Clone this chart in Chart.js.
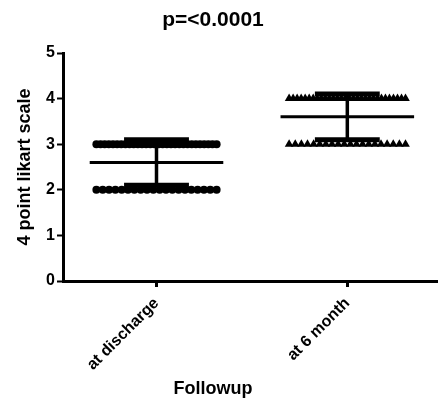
<!DOCTYPE html>
<html>
<head>
<meta charset="utf-8">
<script src="https://cdn.jsdelivr.net/npm/chart.js@4.4.1/dist/chart.umd.min.js"></script>
<style>
html,body{margin:0;padding:0;background:#fff;}
canvas{display:block;}
</style>
</head>
<body>
<canvas id="c" width="442" height="402"></canvas>
<script>
// ---- data ----
const categories = ["at discharge", "at 6 month"];
const scoreLevels = [2, 3, 4];
const dischargeCounts = [20, 30, 0];   // number of patients scoring 2, 3, 4
const sixMonthCounts = [0, 20, 30];
const means = [2.6, 3.6];
const sds = [0.5, 0.5];
const yTicks = [0, 1, 2, 3, 4, 5];
const titleText = "p=<0.0001";
const yTitle = "4 point likart scale";
const xTitle = "Followup";

// ---- build datasets ----
const FONT = "'Liberation Sans', Arial, Helvetica, sans-serif";
function rowPoints(center, counts, half) {
  const pts = [];
  counts.forEach((n, li) => {
    for (let i = 0; i < n; i++) {
      const off = n > 1 ? -half + i * (2 * half / (n - 1)) : 0;
      pts.push({x: center + off, y: scoreLevels[li]});
    }
  });
  return pts;
}
function seg(x1, y1, x2, y2, w) {
  return {
    data: [{x: x1, y: y1}, {x: x2, y: y2}],
    showLine: true, borderColor: '#000', borderWidth: w,
    pointRadius: 0, pointHoverRadius: 0, borderCapStyle: 'butt', order: 0
  };
}
const datasets = [
  {data: rowPoints(0, dischargeCounts, 0.315), pointStyle: 'circle', pointRadius: 4,
   backgroundColor: '#000', borderColor: '#000', borderWidth: 0, showLine: false, order: 1},
  {data: rowPoints(1, sixMonthCounts, 0.305), pointStyle: 'triangle', pointRadius: 5,
   backgroundColor: '#000', borderColor: '#000', borderWidth: 0, showLine: false, order: 1}
];
means.forEach((m, i) => {
  const s = sds[i];
  datasets.push(seg(i - 0.35, m, i + 0.35, m, 3));
  datasets.push(seg(i, m - s, i, m + s, 3.5));
  datasets.push(seg(i - 0.17, m + s, i + 0.17, m + s, 5));
  datasets.push(seg(i - 0.17, m - s, i + 0.17, m - s, 5));
});

// titles centred on the figure (as in the original figure, not on the plot area)
const textTitles = {
  id: 'textTitles',
  afterDraw(chart) {
    const ctx = chart.ctx;
    ctx.save();
    ctx.fillStyle = '#000';
    ctx.textAlign = 'center';
    ctx.textBaseline = 'middle';
    ctx.font = "bold 21px " + FONT;
    ctx.fillText(titleText, 213, 20);
    ctx.font = "bold 18px " + FONT;
    ctx.fillText(xTitle, 213, 389);
    ctx.restore();
  }
};

new Chart(document.getElementById('c'), {
  type: 'scatter',
  data: {datasets},
  plugins: [textTitles],
  options: {
    responsive: false,
    animation: false,
    devicePixelRatio: 1,
    layout: {padding: {left: 0, right: 0, top: 53, bottom: 0}},
    plugins: {
      legend: {display: false},
      tooltip: {enabled: false},
      title: {display: false}
    },
    scales: {
      x: {
        type: 'linear', min: -0.49, max: 1.47,
        afterBuildTicks: (sc) => { sc.ticks = categories.map((c, i) => ({value: i})); },
        afterFit: (sc) => { sc.height = 121; },
        ticks: {
          color: '#000', font: {family: FONT, size: 16, weight: 'bold'},
          minRotation: 45, maxRotation: 45, padding: 7,
          callback: (v) => categories[v] !== undefined ? categories[v] : ''
        },
        grid: {display: true, drawOnChartArea: false, drawTicks: true, tickLength: 6, tickWidth: 3, tickColor: '#000'},
        border: {display: true, color: '#000', width: 3},
        title: {display: false}
      },
      y: {
        min: 0, max: 5,
        afterBuildTicks: (sc) => { sc.ticks = yTicks.map(v => ({value: v})); },
        afterFit: (sc) => { sc.width = 63; },
        ticks: {color: '#000', font: {family: FONT, size: 16, weight: 'bold'}, padding: 2},
        grid: {display: true, drawOnChartArea: false, drawTicks: true, tickLength: 6, tickWidth: 2, tickColor: '#000'},
        border: {display: true, color: '#000', width: 3},
        title: {display: true, text: yTitle, color: '#000',
          font: {family: FONT, size: 18, weight: 'bold'}, padding: {top: 14, bottom: 0}}
      }
    }
  }
});
</script>
</body>
</html>
